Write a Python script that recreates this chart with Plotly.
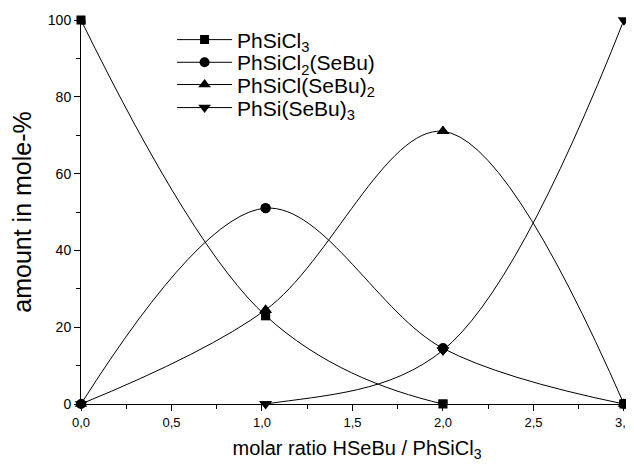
import plotly.graph_objects as go

ratio = [0, 1.02, 2, 3]
phsicl3 = [100, 23, 0, 0]
phsicl2_sebu = [0, 51, 14.5, 0]
phsicl_sebu2 = [0, 24.5, 71, 0]
phsi_sebu3 = [0, 0, 14, 100]

names = ["PhSiCl<sub>3</sub>", "PhSiCl<sub>2</sub>(SeBu)",
         "PhSiCl(SeBu)<sub>2</sub>", "PhSi(SeBu)<sub>3</sub>"]
series = [phsicl3, phsicl2_sebu, phsicl_sebu2, phsi_sebu3]
symbols = ["square", "circle", "triangle-up", "triangle-down"]
sizes = [9, 10, 11, 11]
legend_ids = ["legend", "legend2", "legend3", "legend4"]
legend_rows = [0.948, 0.889, 0.831, 0.771]

fig = go.Figure()
for name, ys, sym, sz, lg in zip(names, series, symbols, sizes, legend_ids):
    fig.add_trace(go.Scatter(
        x=ratio, y=ys, name=name, mode="lines+markers", legend=lg,
        line=dict(color="black", width=1, shape="spline", smoothing=1),
        marker=dict(symbol=sym, size=sz, color="black"),
        cliponaxis=True, showlegend=True))
for name, ys, sym, sz in zip(names, series, symbols, sizes):
    fig.add_trace(go.Scatter(
        x=ratio, y=ys, mode="markers",
        marker=dict(symbol=sym, size=sz, color="black"),
        cliponaxis=False, showlegend=False, hoverinfo="skip"))

font = "Liberation Sans, Arial, sans-serif"
legend_common = dict(x=0.165, xanchor="left", yanchor="middle",
                     bgcolor="rgba(0,0,0,0)", font=dict(size=21, family=font),
                     itemwidth=55)
fig.update_layout(
    width=634, height=466,
    margin=dict(l=73, r=9, t=12, b=70, autoexpand=False),
    paper_bgcolor="white", plot_bgcolor="white",
    separators=",.",
    font=dict(family=font, color="black", size=14),
    showlegend=True,
    xaxis=dict(range=[0, 3.05], tickvals=[0, 0.5, 1, 1.5, 2, 2.5, 3],
               tickformat=".1f", showgrid=False, zeroline=False,
               automargin=False, tickfont=dict(size=13),
               ticklabeloverflow="allow",
               showline=True, linecolor="black", linewidth=1,
               ticks="outside", ticklen=6, tickcolor="black",
               minor=dict(tickvals=[0.25, 0.75, 1.25, 1.75, 2.25, 2.75],
                          ticks="outside", ticklen=4, tickcolor="black"),
               title=dict(text="molar ratio HSeBu / PhSiCl<sub>3</sub>",
                          font=dict(size=20), standoff=12)),
    yaxis=dict(range=[0, 100], tickvals=[0, 20, 40, 60, 80, 100],
               showgrid=False, zeroline=False, automargin=False,
               showline=True, linecolor="black", linewidth=1,
               ticks="outside", ticklen=6, tickcolor="black",
               minor=dict(tickvals=[10, 30, 50, 70, 90],
                          ticks="outside", ticklen=4, tickcolor="black"),
               title=dict(text="amount in mole-%", font=dict(size=25),
                          standoff=10)),
)
for lg, yv in zip(legend_ids, legend_rows):
    fig.update_layout({lg: dict(legend_common, y=yv)})

fig.write_html("out.html")
